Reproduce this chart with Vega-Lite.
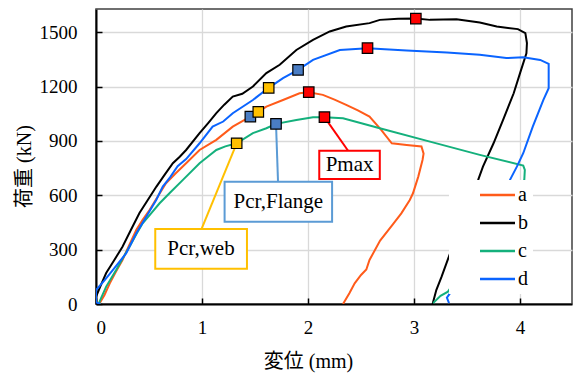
{
  "$schema": "https://vega.github.io/schema/vega-lite/v6.json",
  "width": 476,
  "height": 295,
  "autosize": "none",
  "padding": {"left": 96, "top": 9, "right": 5, "bottom": 70},
  "background": "white",
  "config": {
    "view": {"stroke": "#404040", "strokeWidth": 1.5},
    "font": "Liberation Serif",
    "axis": {
      "domainColor": "black", "domainWidth": 2,
      "gridColor": "#d9d9d9", "gridWidth": 1.3,
      "tickColor": "black", "tickWidth": 1.5, "tickSize": -6,
      "labelFont": "Liberation Serif", "labelFontSize": 19, "labelColor": "black",
      "titleFont": "Liberation Serif, Noto Sans CJK JP", "titleFontSize": 20, "titleFontWeight": "normal", "titleColor": "black"
    }
  },
  "datasets": {
    "curves": [
      {"s":"a","i":1,"x":0.03,"y":0},{"s":"a","i":2,"x":0.08,"y":50},{"s":"a","i":3,"x":0.13,"y":114},{"s":"a","i":4,"x":0.19,"y":180},{"s":"a","i":5,"x":0.25,"y":243},{"s":"a","i":6,"x":0.31,"y":320},{"s":"a","i":7,"x":0.38,"y":409},{"s":"a","i":8,"x":0.44,"y":465},{"s":"a","i":9,"x":0.505,"y":519},{"s":"a","i":10,"x":0.58,"y":590},{"s":"a","i":11,"x":0.66,"y":666},{"s":"a","i":12,"x":0.75,"y":720},{"s":"a","i":13,"x":0.85,"y":777},{"s":"a","i":14,"x":0.977,"y":850},{"s":"a","i":15,"x":1.135,"y":906},{"s":"a","i":16,"x":1.29,"y":979},{"s":"a","i":17,"x":1.456,"y":1034},{"s":"a","i":18,"x":1.531,"y":1060},{"s":"a","i":19,"x":1.607,"y":1089},{"s":"a","i":20,"x":1.764,"y":1126},{"s":"a","i":21,"x":1.92,"y":1163},{"s":"a","i":22,"x":2.007,"y":1169},{"s":"a","i":23,"x":2.14,"y":1154},{"s":"a","i":24,"x":2.25,"y":1128},{"s":"a","i":25,"x":2.36,"y":1099},{"s":"a","i":26,"x":2.47,"y":1068},{"s":"a","i":27,"x":2.58,"y":1034},{"s":"a","i":28,"x":2.69,"y":961},{"s":"a","i":29,"x":2.79,"y":887},{"s":"a","i":30,"x":2.93,"y":878},{"s":"a","i":31,"x":3.07,"y":869},{"s":"a","i":32,"x":3.09,"y":830},{"s":"a","i":33,"x":3.08,"y":795},{"s":"a","i":34,"x":3.04,"y":703},{"s":"a","i":35,"x":2.99,"y":611},{"s":"a","i":36,"x":2.96,"y":574},{"s":"a","i":37,"x":2.88,"y":500},{"s":"a","i":38,"x":2.80,"y":440},{"s":"a","i":39,"x":2.68,"y":350},{"s":"a","i":40,"x":2.58,"y":243},{"s":"a","i":41,"x":2.55,"y":190},{"s":"a","i":42,"x":2.5,"y":160},{"s":"a","i":43,"x":2.44,"y":114},{"s":"a","i":44,"x":2.39,"y":59},{"s":"a","i":45,"x":2.33,"y":0},
      {"s":"b","i":1,"x":0,"y":0},{"s":"b","i":2,"x":0.0,"y":40},{"s":"b","i":3,"x":0.05,"y":110},{"s":"b","i":4,"x":0.096,"y":171},{"s":"b","i":5,"x":0.17,"y":240},{"s":"b","i":6,"x":0.25,"y":316},{"s":"b","i":7,"x":0.33,"y":410},{"s":"b","i":8,"x":0.41,"y":502},{"s":"b","i":9,"x":0.49,"y":575},{"s":"b","i":10,"x":0.57,"y":648},{"s":"b","i":11,"x":0.65,"y":715},{"s":"b","i":12,"x":0.725,"y":777},{"s":"b","i":13,"x":0.79,"y":813},{"s":"b","i":14,"x":0.85,"y":850},{"s":"b","i":15,"x":0.977,"y":943},{"s":"b","i":16,"x":1.06,"y":1000},{"s":"b","i":17,"x":1.135,"y":1053},{"s":"b","i":18,"x":1.21,"y":1100},{"s":"b","i":19,"x":1.29,"y":1145},{"s":"b","i":20,"x":1.38,"y":1160},{"s":"b","i":21,"x":1.48,"y":1200},{"s":"b","i":22,"x":1.607,"y":1274},{"s":"b","i":23,"x":1.733,"y":1320},{"s":"b","i":24,"x":1.89,"y":1402},{"s":"b","i":25,"x":2.047,"y":1458},{"s":"b","i":26,"x":2.205,"y":1504},{"s":"b","i":27,"x":2.36,"y":1531},{"s":"b","i":28,"x":2.58,"y":1550},{"s":"b","i":29,"x":2.677,"y":1568},{"s":"b","i":30,"x":2.85,"y":1574},{"s":"b","i":31,"x":3.017,"y":1575},{"s":"b","i":32,"x":3.15,"y":1568},{"s":"b","i":33,"x":3.40,"y":1572},{"s":"b","i":34,"x":3.62,"y":1553},{"s":"b","i":35,"x":3.78,"y":1531},{"s":"b","i":36,"x":3.98,"y":1517},{"s":"b","i":37,"x":4.05,"y":1495},{"s":"b","i":38,"x":4.065,"y":1440},{"s":"b","i":39,"x":4.06,"y":1384},{"s":"b","i":40,"x":4.0,"y":1274},{"s":"b","i":41,"x":3.94,"y":1163},{"s":"b","i":42,"x":3.84,"y":1016},{"s":"b","i":43,"x":3.75,"y":887},{"s":"b","i":44,"x":3.65,"y":758},{"s":"b","i":45,"x":3.605,"y":685},{"s":"b","i":46,"x":3.46,"y":470},{"s":"b","i":47,"x":3.32,"y":248},{"s":"b","i":48,"x":3.26,"y":151},{"s":"b","i":49,"x":3.21,"y":77},{"s":"b","i":50,"x":3.175,"y":0},
      {"s":"c","i":1,"x":0.033,"y":0},{"s":"c","i":2,"x":0.033,"y":13},{"s":"c","i":3,"x":0.096,"y":96},{"s":"c","i":4,"x":0.19,"y":188},{"s":"c","i":5,"x":0.25,"y":250},{"s":"c","i":6,"x":0.316,"y":316},{"s":"c","i":7,"x":0.38,"y":385},{"s":"c","i":8,"x":0.44,"y":445},{"s":"c","i":9,"x":0.52,"y":500},{"s":"c","i":10,"x":0.6,"y":556},{"s":"c","i":11,"x":0.7,"y":615},{"s":"c","i":12,"x":0.82,"y":685},{"s":"c","i":13,"x":0.977,"y":777},{"s":"c","i":14,"x":1.06,"y":815},{"s":"c","i":15,"x":1.135,"y":850},{"s":"c","i":16,"x":1.22,"y":870},{"s":"c","i":17,"x":1.327,"y":887},{"s":"c","i":18,"x":1.48,"y":943},{"s":"c","i":19,"x":1.607,"y":970},{"s":"c","i":20,"x":1.698,"y":994},{"s":"c","i":21,"x":1.89,"y":1016},{"s":"c","i":22,"x":2.047,"y":1031},{"s":"c","i":23,"x":2.155,"y":1031},{"s":"c","i":24,"x":2.33,"y":1025},{"s":"c","i":25,"x":2.677,"y":970},{"s":"c","i":26,"x":3.15,"y":896},{"s":"c","i":27,"x":3.62,"y":823},{"s":"c","i":28,"x":4.03,"y":764},{"s":"c","i":29,"x":4.045,"y":740},{"s":"c","i":30,"x":4.04,"y":685},{"s":"c","i":31,"x":3.32,"y":68},{"s":"c","i":32,"x":3.25,"y":45},{"s":"c","i":33,"x":3.18,"y":5},
      {"s":"d","i":1,"x":0.04,"y":0},{"s":"d","i":2,"x":0,"y":10},{"s":"d","i":3,"x":0,"y":77},{"s":"d","i":4,"x":0.08,"y":130},{"s":"d","i":5,"x":0.16,"y":188},{"s":"d","i":6,"x":0.285,"y":280},{"s":"d","i":7,"x":0.38,"y":390},{"s":"d","i":8,"x":0.474,"y":482},{"s":"d","i":9,"x":0.568,"y":574},{"s":"d","i":10,"x":0.63,"y":648},{"s":"d","i":11,"x":0.7,"y":700},{"s":"d","i":12,"x":0.77,"y":760},{"s":"d","i":13,"x":0.85,"y":800},{"s":"d","i":14,"x":0.977,"y":887},{"s":"d","i":15,"x":1.10,"y":979},{"s":"d","i":16,"x":1.2,"y":1007},{"s":"d","i":17,"x":1.29,"y":1053},{"s":"d","i":18,"x":1.48,"y":1126},{"s":"d","i":19,"x":1.629,"y":1193},{"s":"d","i":20,"x":1.764,"y":1246},{"s":"d","i":21,"x":1.906,"y":1292},{"s":"d","i":22,"x":2.047,"y":1347},{"s":"d","i":23,"x":2.30,"y":1402},{"s":"d","i":24,"x":2.561,"y":1412},{"s":"d","i":25,"x":2.93,"y":1399},{"s":"d","i":26,"x":3.31,"y":1388},{"s":"d","i":27,"x":3.62,"y":1375},{"s":"d","i":28,"x":3.87,"y":1357},{"s":"d","i":29,"x":4.03,"y":1362},{"s":"d","i":30,"x":4.19,"y":1347},{"s":"d","i":31,"x":4.27,"y":1325},{"s":"d","i":32,"x":4.27,"y":1191},{"s":"d","i":33,"x":4.22,"y":1126},{"s":"d","i":34,"x":4.12,"y":979},{"s":"d","i":35,"x":4.03,"y":832},{"s":"d","i":36,"x":3.97,"y":758},{"s":"d","i":37,"x":3.905,"y":685},{"s":"d","i":38,"x":3.34,"y":60},{"s":"d","i":39,"x":3.31,"y":35},{"s":"d","i":40,"x":3.33,"y":5}
    ],
    "markers": [
      {"s":"a","k":"Pcr,Flange","x":1.456,"y":1034},{"s":"a","k":"Pcr,web","x":1.531,"y":1060},{"s":"a","k":"Pmax","x":2.007,"y":1169},
      {"s":"b","k":"Pmax","x":3.017,"y":1575},
      {"s":"c","k":"Pcr,web","x":1.327,"y":887},{"s":"c","k":"Pcr,Flange","x":1.698,"y":994},{"s":"c","k":"Pmax","x":2.155,"y":1031},
      {"s":"d","k":"Pcr,web","x":1.629,"y":1193},{"s":"d","k":"Pcr,Flange","x":1.906,"y":1292},{"s":"d","k":"Pmax","x":2.561,"y":1412}
    ],
    "notes": [
      {"t":"Pmax","x1":2.106,"x2":2.677,"y1":690,"y2":846,"tx":2.392,"ty":768,"lx1":2.155,"ly1":1031,"lx2":2.378,"ly2":846},
      {"t":"Pcr,Flange","x1":1.213,"x2":2.227,"y1":454,"y2":674,"tx":1.72,"ty":564,"lx1":1.698,"ly1":994,"lx2":1.717,"ly2":674},
      {"t":"Pcr,web","x1":0.559,"x2":1.424,"y1":195,"y2":414,"tx":0.99,"ty":304,"lx1":1.327,"ly1":887,"lx2":0.996,"ly2":414}
    ]
  },
  "layer": [
    {
      "data": {"name": "curves"},
      "mark": {"type": "line", "strokeWidth": 2, "clip": true},
      "encoding": {
        "x": {"field": "x", "type": "quantitative", "scale": {"domain": [0, 4.49], "nice": false}, "axis": {"values": [0,1,2,3,4], "format": "d", "labelFont": "Liberation Serif", "labelFontSize": 19, "titleFont": "Liberation Serif, Noto Sans CJK JP", "titleFontSize": 20, "title": "変位 (mm)", "labelPadding": 20, "titleX": 212, "titleY": 47, "titleBaseline": "top"}},
        "y": {"field": "y", "type": "quantitative", "scale": {"domain": [0, 1628], "nice": false}, "axis": {"values": [0,300,600,900,1200,1500], "format": "d", "labelFont": "Liberation Serif", "labelFontSize": 19, "titleFont": "Liberation Serif, Noto Sans CJK JP", "titleFontSize": 20, "title": "荷重 (kN)", "labelPadding": 25, "titleX": -72, "titleY": 157, "titleBaseline": "middle", "titleAngle": 270}},
        "order": {"field": "i", "type": "quantitative"},
        "color": {"field": "s", "type": "nominal",
          "scale": {"domain": ["a","b","c","d"], "range": ["#FF5B1A","#000000","#14B07C","#0A64FF"]},
          "legend": {"orient": "none", "legendX": 353, "legendY": 171, "title": null, "symbolType": "M-2.5,0H2.5", "symbolSize": 196, "symbolStrokeWidth": 2.5, "labelFont": "Liberation Serif", "labelFontSize": 20, "labelOffset": 10.5, "labelColor": "black", "fillColor": "white", "padding": 5, "symbolOffset": 33.5, "rowPadding": 8, "labelExpr": "datum.label + '        '"}
        }
      }
    },
    {
      "data": {"name": "notes"},
      "mark": {"type": "rule", "strokeWidth": 2},
      "encoding": {
        "x": {"field": "lx1", "type": "quantitative"},
        "y": {"field": "ly1", "type": "quantitative"},
        "x2": {"field": "lx2"},
        "y2": {"field": "ly2"},
        "stroke": {"field": "t", "type": "nominal", "scale": {"domain": ["Pmax","Pcr,Flange","Pcr,web"], "range": ["#FF0000","#5B9BD5","#FFC000"]}, "legend": null}
      }
    },
    {
      "data": {"name": "markers"},
      "mark": {"type": "point", "shape": "square", "filled": true, "size": 110, "stroke": "black", "strokeWidth": 1.2, "opacity": 1},
      "encoding": {
        "x": {"field": "x", "type": "quantitative"},
        "y": {"field": "y", "type": "quantitative"},
        "fill": {"field": "k", "type": "nominal", "scale": {"domain": ["Pmax","Pcr,Flange","Pcr,web"], "range": ["#FF0000","#4A7DC4","#FFC000"]}, "legend": null}
      }
    },
    {
      "data": {"name": "notes"},
      "mark": {"type": "rect", "fill": "white", "strokeWidth": 2},
      "encoding": {
        "x": {"field": "x1", "type": "quantitative"},
        "x2": {"field": "x2"},
        "y": {"field": "y1", "type": "quantitative"},
        "y2": {"field": "y2"},
        "stroke": {"field": "t", "type": "nominal", "legend": null}
      }
    },
    {
      "data": {"name": "notes"},
      "mark": {"type": "text", "font": "Liberation Serif", "fontSize": 21, "color": "black", "align": "center", "baseline": "middle"},
      "encoding": {
        "x": {"field": "tx", "type": "quantitative"},
        "y": {"field": "ty", "type": "quantitative"},
        "text": {"field": "t"}
      }
    }
  ]
}
